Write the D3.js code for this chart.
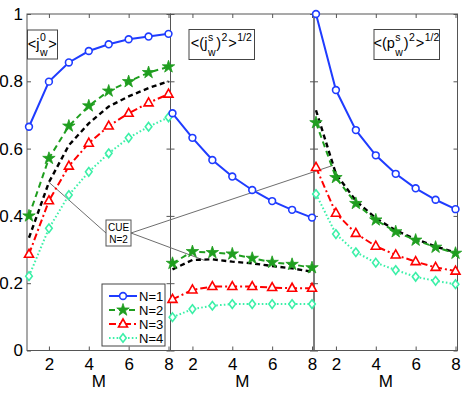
<!DOCTYPE html>
<html><head><meta charset="utf-8">
<script src="https://cdn.jsdelivr.net/npm/d3@7"></script>
<style>body{margin:0;background:#fff} svg{display:block} text{font-family:"Liberation Sans",Arial,Helvetica,sans-serif;fill:#000}</style>
</head><body><svg id="c" width="467" height="393"></svg>
<script>
// ---------- data ----------
const M = [1, 2, 3, 4, 5, 6, 7, 8];
const xTicks = [2, 4, 6, 8];
const yTicks = [0, 0.2, 0.4, 0.6, 0.8, 1];
const seriesNames = ["N=1", "N=2", "N=3", "N=4"];

const p1_N1 = [0.665, 0.799, 0.856, 0.890, 0.910, 0.925, 0.933, 0.941];
const p1_N2 = [0.400, 0.571, 0.667, 0.727, 0.771, 0.799, 0.826, 0.843];
const p1_N3 = [0.286, 0.445, 0.548, 0.616, 0.667, 0.705, 0.736, 0.762];
const p1_N4 = [0.221, 0.363, 0.462, 0.531, 0.586, 0.632, 0.665, 0.693];
const p1_CUE = [0.335, 0.500, 0.610, 0.675, 0.725, 0.755, 0.780, 0.800];

const p2_N1 = [0.705, 0.632, 0.566, 0.517, 0.477, 0.444, 0.418, 0.395];
const p2_N2 = [0.259, 0.294, 0.291, 0.287, 0.274, 0.262, 0.256, 0.246];
const p2_N3 = [0.152, 0.180, 0.190, 0.190, 0.190, 0.187, 0.185, 0.185];
const p2_N4 = [0.099, 0.123, 0.133, 0.138, 0.138, 0.138, 0.138, 0.138];
const p2_CUE = [0.241, 0.269, 0.271, 0.264, 0.259, 0.251, 0.244, 0.234];

const p3_N1 = [1.000, 0.774, 0.655, 0.580, 0.525, 0.482, 0.448, 0.420];
const p3_N2 = [0.677, 0.514, 0.437, 0.388, 0.353, 0.328, 0.307, 0.289];
const p3_N3 = [0.544, 0.408, 0.348, 0.310, 0.284, 0.264, 0.247, 0.236];
const p3_N4 = [0.465, 0.346, 0.292, 0.261, 0.239, 0.219, 0.207, 0.197];
const p3_CUE = [0.714, 0.525, 0.445, 0.393, 0.357, 0.331, 0.309, 0.291];

const label1 = [{t: "<j"}, {sup: "0", sub: "w"}, {t: ">"}];
const label2 = [{t: "<(j"}, {sup: "s", sub: "w"}, {t: ")"}, {sup: "2"}, {t: ">"}, {sup: "1/2"}];
const label3 = [{t: "<(p"}, {sup: "s", sub: "w"}, {t: ")"}, {sup: "2"}, {t: ">"}, {sup: "1/2"}];
const cueText = ["CUE", "N=2"];
// annotation targets (panel index, M, value) on the CUE curves
const cueTargets = [[0, 2, 0.50], [1, 2.6, 0.268], [2, 1.85, 0.55]];

// ---------- styles ----------
const colors = ["#1f3cff", "#1f9e1f", "#ff0000", "#3cf0a8"];
const dashes = [null, "6,4", "7,3,2,3", "1.6,2.2"];
const markers = ["circle", "star", "triangle", "diamond"];
const FONT = '"Liberation Sans",Arial,Helvetica,sans-serif';

const svg = d3.select("#c");
svg.append("rect").attr("width", 467).attr("height", 393).attr("fill", "#fff");

const y = d3.scaleLinear().domain([0, 1]).range([350.5, 14]);
const lefts = [27, 170.5, 314], PW = 143.5;
const xs = lefts.map(l => d3.scaleLinear().domain([0.9, 8.1]).range([l, l + PW]));

function markerPath(type) {
  if (type === "triangle") { const r = 5; return `M0,${-r}L${r*0.9},${r*0.6}L${-r*0.9},${r*0.6}Z`; }
  if (type === "diamond") { return "M0,-4.3L3.3,0L0,4.3L-3.3,0Z"; }
  if (type === "star") return d3.symbol(d3.symbolStar, 48)();
  return null;
}
function drawMarker(g, type, color, cx, cy) {
  if (type === "circle") {
    g.append("circle").attr("cx", cx).attr("cy", cy).attr("r", 3.4)
      .attr("fill", "#fff").attr("stroke", color).attr("stroke-width", 1.6);
  } else if (type === "star") {
    g.append("path").attr("d", markerPath(type)).attr("transform", `translate(${cx},${cy})`)
      .attr("fill", color).attr("stroke", color).attr("stroke-width", 0.8);
  } else {
    g.append("path").attr("d", markerPath(type)).attr("transform", `translate(${cx},${cy})`)
      .attr("fill", "#fff").attr("stroke", color).attr("stroke-width", 1.6);
  }
}

const panels = [
  {series: [p1_N1, p1_N2, p1_N3, p1_N4], cue: p1_CUE, label: label1, box: [27.5, 30, 30, 29]},
  {series: [p2_N1, p2_N2, p2_N3, p2_N4], cue: p2_CUE, label: label2, box: [189, 29.5, 65.5, 30]},
  {series: [p3_N1, p3_N2, p3_N3, p3_N4], cue: p3_CUE, label: label3, box: [374, 29.5, 65.5, 30]}
];

// panel frames & axes
panels.forEach((p, pi) => {
  const x = xs[pi];
  const g = svg.append("g");
  g.append("rect").attr("x", lefts[pi]).attr("y", y(1)).attr("width", PW).attr("height", y(0) - y(1))
    .attr("fill", "none").attr("stroke", "#555").attr("stroke-width", 1);
  const bx = g.append("g").attr("transform", `translate(0,${y(0)})`)
    .call(d3.axisBottom(x).tickValues(xTicks).tickSizeInner(-4).tickSizeOuter(0).tickPadding(7).tickFormat(d3.format("d")));
  const tx = g.append("g").attr("transform", `translate(0,${y(1)})`)
    .call(d3.axisTop(x).tickValues(xTicks).tickSizeInner(-4).tickSizeOuter(0).tickFormat(""));
  const ly = g.append("g").attr("transform", `translate(${lefts[pi]},0)`)
    .call(d3.axisLeft(y).tickValues(yTicks).tickSizeInner(-4).tickSizeOuter(0).tickPadding(4)
      .tickFormat(pi === 0 ? d3.format("~g") : ""));
  const ry = g.append("g").attr("transform", `translate(${lefts[pi] + PW},0)`)
    .call(d3.axisRight(y).tickValues(yTicks).tickSizeInner(-4).tickSizeOuter(0).tickFormat(""));
  [bx, tx, ly, ry].forEach(a => {
    a.attr("color", "#555");
    a.select(".domain").remove();
    a.selectAll("text").attr("fill", "#000").style("font-size", "17px").style("font-family", FONT);
  });
  g.append("text").attr("x", lefts[pi] + PW / 2).attr("y", 387).attr("text-anchor", "middle")
    .style("font-size", "17px").text("M");
});

// CUE annotation lines (under everything)
const cueBox = {x: 106, y: 220, w: 25, h: 26};
const ann = svg.append("g").attr("stroke", "#6e6e6e").attr("stroke-width", 1);
cueTargets.forEach(([pi, m, v]) => {
  const tx = xs[pi](m), ty = y(v);
  const sx = pi === 0 ? cueBox.x : cueBox.x + cueBox.w;
  ann.append("line").attr("x1", sx).attr("y1", cueBox.y + cueBox.h / 2).attr("x2", tx).attr("y2", ty);
});

// data lines
panels.forEach((p, pi) => {
  const x = xs[pi];
  const line = d3.line().x((d, i) => x(M[i])).y(d => y(d));
  const g = svg.append("g");
  g.append("path").attr("d", line(p.cue)).attr("fill", "none").attr("stroke", "#000")
    .attr("stroke-width", 2.4).attr("stroke-dasharray", "5,3.5");
  p.series.forEach((s, si) => {
    g.append("path").attr("d", line(s)).attr("fill", "none").attr("stroke", colors[si])
      .attr("stroke-width", si === 3 ? 2 : 2).attr("stroke-dasharray", dashes[si]);
  });
  p.series.forEach((s, si) => {
    s.forEach((v, i) => drawMarker(g, markers[si], colors[si], x(M[i]), y(v)));
  });
});

// panel labels
function drawLabel(parts, box) {
  const g = svg.append("g");
  g.append("rect").attr("x", box[0]).attr("y", box[1]).attr("width", box[2]).attr("height", box[3])
    .attr("fill", "#fff").attr("stroke", "#444").attr("stroke-width", 1);
  const tg = g.append("g");
  let cx = 0;
  const mainB = box[1] + 18.5, supB = box[1] + 11, subB = box[1] + 26;
  parts.forEach(p => {
    if (p.t !== undefined) {
      const t = tg.append("text").attr("x", cx).attr("y", mainB).style("font-size", "14.5px").text(p.t);
      cx += t.node().getComputedTextLength() + 0.5;
    } else {
      let w = 0;
      if (p.sup) {
        const t = tg.append("text").attr("x", cx).attr("y", supB).style("font-size", "10.5px").text(p.sup);
        w = Math.max(w, t.node().getComputedTextLength());
      }
      if (p.sub) {
        const t = tg.append("text").attr("x", cx).attr("y", subB).style("font-size", "10.5px").text(p.sub);
        w = Math.max(w, t.node().getComputedTextLength());
      }
      cx += w + 0.8;
    }
  });
  const off = box[0] + (box[2] - cx) / 2;
  tg.attr("transform", `translate(${off},0)`);
}
panels.forEach(p => drawLabel(p.label, p.box));

// CUE box
const cg = svg.append("g");
cg.append("rect").attr("x", cueBox.x).attr("y", cueBox.y).attr("width", cueBox.w).attr("height", cueBox.h)
  .attr("fill", "#fff").attr("stroke", "#555").attr("stroke-width", 1);
cueText.forEach((t, i) => {
  cg.append("text").attr("x", cueBox.x + cueBox.w / 2).attr("y", cueBox.y + 11 + i * 12)
    .attr("text-anchor", "middle").style("font-size", "10px").text(t);
});

// legend
const lg = svg.append("g");
lg.append("rect").attr("x", 102).attr("y", 284).attr("width", 63).attr("height", 62)
  .attr("fill", "#fff").attr("stroke", "#444").attr("stroke-width", 1);
seriesNames.forEach((n, i) => {
  const ly = 296 + i * 14;
  lg.append("line").attr("x1", 109).attr("x2", 137).attr("y1", ly).attr("y2", ly)
    .attr("stroke", colors[i]).attr("stroke-width", 2).attr("stroke-dasharray", dashes[i]);
  drawMarker(lg, markers[i], colors[i], 123, ly);
  lg.append("text").attr("x", 139).attr("y", ly + 4.6).style("font-size", "13px").text(n);
});
</script>
</body></html>
